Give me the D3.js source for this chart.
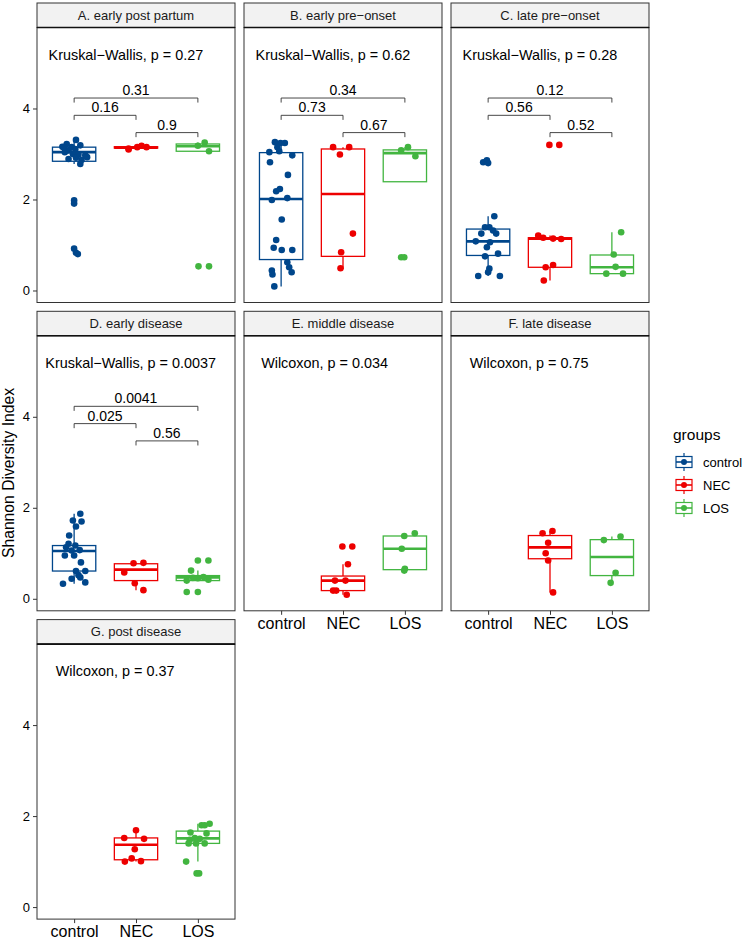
<!DOCTYPE html>
<html><head><meta charset="utf-8">
<script src="https://cdn.jsdelivr.net/npm/d3@7"></script>
<style>body{margin:0;background:#fff}svg{display:block}</style>
</head><body>
<svg id="chart" width="745" height="941"></svg>
<script>
// ---------- data ----------
const groups = ["control", "NEC", "LOS"];
const groupColors = ["#00468B", "#ED0000", "#42B540"];
const panelTitles = ["A. early post partum", "B. early pre\u2212onset", "C. late pre\u2212onset",
  "D. early disease", "E. middle disease", "F. late disease", "G. post disease"];
const testLabels = ["Kruskal\u2212Wallis, p = 0.27", "Kruskal\u2212Wallis, p = 0.62", "Kruskal\u2212Wallis, p = 0.28",
  "Kruskal\u2212Wallis, p = 0.0037", "Wilcoxon, p = 0.034", "Wilcoxon, p = 0.75", "Wilcoxon, p = 0.37"];
const yTicks = [0, 2, 4];
const yDomain = [-0.264, 5.78];
const yTitle = "Shannon Diversity Index";
const legendTitle = "groups";

// jittered observations: [group, jitter (category units), Shannon index]
const pointsA = [
  ["control",0.03,3.31],["control",-0.12,3.22],["control",-0.19,3.16],["control",-0.04,3.15],["control",0.10,3.19],
  ["control",-0.09,3.08],["control",0.02,3.11],["control",-0.15,3.04],["control",-0.02,3.00],["control",0.07,2.99],
  ["control",0.18,2.97],["control",-0.09,2.89],["control",0.12,2.87],["control",0.10,2.78],["control",0.03,2.92],
  ["control",0.21,2.93],["control",-0.17,3.15],["control",0.00,1.98],["control",0.00,1.91],["control",0.00,0.92],
  ["control",0.03,0.83],["control",0.06,0.80],
  ["NEC",-0.12,3.10],["NEC",-0.12,3.12],["NEC",0.09,3.18],["NEC",0.17,3.15],["NEC",0.02,3.15],
  ["LOS",0.00,3.18],["LOS",0.11,3.25],["LOS",0.18,3.06],["LOS",0.01,0.53],["LOS",0.18,0.53]
];
const pointsB = [
  ["control",-0.10,3.26],["control",-0.01,3.24],["control",0.06,3.24],["control",-0.06,3.15],["control",-0.19,3.04],
  ["control",-0.03,3.06],["control",0.18,2.97],["control",-0.18,2.82],["control",0.11,2.54],["control",-0.08,2.18],
  ["control",-0.02,2.23],["control",-0.15,1.99],["control",0.10,2.03],["control",0.01,1.56],["control",-0.08,1.11],
  ["control",-0.12,0.94],["control",0.01,0.89],["control",0.18,0.89],["control",0.10,0.62],["control",-0.15,0.44],
  ["control",-0.14,0.35],["control",0.13,0.51],["control",0.17,0.40],["control",-0.11,0.09],
  ["NEC",-0.16,3.15],["NEC",-0.05,2.99],["NEC",0.10,3.15],["NEC",0.16,1.25],["NEC",-0.03,0.84],["NEC",-0.04,0.49],
  ["LOS",-0.06,3.08],["LOS",0.05,3.15],["LOS",0.17,2.95],["LOS",-0.06,0.73],["LOS",-0.01,0.73]
];
const pointsC = [
  ["control",-0.08,2.82],["control",-0.02,2.86],["control",0.00,2.80],["control",0.10,1.63],["control",-0.05,1.39],
  ["control",0.02,1.39],["control",0.08,1.32],["control",0.13,1.25],["control",-0.11,1.25],["control",-0.20,1.08],
  ["control",0.03,1.06],["control",-0.02,0.95],["control",0.16,0.81],["control",-0.05,0.75],["control",0.02,0.48],
  ["control",0.00,0.40],["control",-0.16,0.32],["control",0.19,0.32],
  ["NEC",-0.01,3.20],["NEC",0.15,3.20],["NEC",-0.19,1.21],["NEC",-0.11,1.16],["NEC",0.05,1.14],["NEC",0.18,1.13],
  ["NEC",-0.07,0.51],["NEC",0.05,0.56],["NEC",-0.10,0.22],
  ["LOS",0.15,1.28],["LOS",0.03,0.79],["LOS",0.06,0.52],["LOS",-0.09,0.37],["LOS",0.18,0.37]
];
const pointsD = [
  ["control",0.10,1.87],["control",-0.02,1.72],["control",0.12,1.70],["control",0.03,1.59],["control",-0.08,1.39],
  ["control",-0.09,1.21],["control",0.02,1.17],["control",-0.13,1.13],["control",-0.04,1.06],["control",0.09,1.07],
  ["control",-0.15,0.95],["control",0.00,0.95],["control",0.11,0.80],["control",0.18,0.61],["control",0.03,0.61],
  ["control",0.07,0.52],["control",0.10,0.47],["control",-0.04,0.44],["control",0.18,0.36],["control",-0.18,0.33],
  ["NEC",-0.04,0.78],["NEC",0.12,0.79],["NEC",-0.19,0.58],["NEC",-0.02,0.34],["NEC",0.12,0.19],
  ["LOS",0.00,0.84],["LOS",0.17,0.84],["LOS",-0.11,0.62],["LOS",-0.18,0.40],["LOS",0.00,0.45],
  ["LOS",0.17,0.42],["LOS",0.09,0.48],["LOS",-0.08,0.46],["LOS",-0.18,0.15],["LOS",0.00,0.15]
];
const pointsE = [
  ["NEC",-0.01,1.15],["NEC",0.15,1.15],["NEC",0.08,0.76],["NEC",-0.13,0.40],["NEC",0.04,0.40],
  ["NEC",-0.16,0.18],["NEC",-0.11,0.18],["NEC",0.06,0.09],
  ["LOS",0.16,1.44],["LOS",-0.01,1.38],["LOS",-0.05,1.10],["LOS",-0.01,0.62],["LOS",0.00,0.66]
];
const pointsF = [
  ["NEC",-0.12,1.44],["NEC",0.04,1.49],["NEC",-0.03,1.23],["NEC",-0.07,1.00],["NEC",-0.03,0.84],["NEC",0.05,0.14],
  ["LOS",0.14,1.37],["LOS",-0.13,1.29],["LOS",0.06,0.57],["LOS",-0.02,0.35]
];
const pointsG = [
  ["NEC",0.00,1.69],["NEC",-0.19,1.52],["NEC",0.13,1.50],["NEC",-0.02,1.27],["NEC",-0.07,1.07],
  ["NEC",-0.18,1.00],["NEC",0.08,1.01],
  ["LOS",0.06,1.80],["LOS",0.19,1.83],["LOS",0.11,1.80],["LOS",-0.12,1.64],["LOS",0.14,1.62],["LOS",0.03,1.50],
  ["LOS",-0.13,1.48],["LOS",-0.03,1.40],["LOS",0.11,1.40],["LOS",-0.15,1.40],["LOS",-0.05,1.52],
  ["LOS",-0.19,1.00],["LOS",-0.02,0.74],["LOS",0.02,0.74]
];

// box statistics: [group, lower whisker, Q1, median, Q3, upper whisker]
const boxesA = [["control",2.78,2.84,3.04,3.15,3.31],["NEC",3.10,3.13,3.14,3.16,3.18],["LOS",3.06,3.06,3.17,3.22,3.25]];
const boxesB = [["control",0.09,0.68,2.01,3.03,3.26],["NEC",0.48,0.75,2.12,3.11,3.15],["LOS",2.39,2.39,3.02,3.09,3.15]];
const boxesC = [["control",0.32,0.77,1.08,1.35,1.63],["NEC",0.22,0.51,1.14,1.16,1.21],["LOS",0.37,0.37,0.51,0.78,1.28]];
const boxesD = [["control",0.33,0.61,1.05,1.17,1.87],["NEC",0.19,0.40,0.64,0.77,0.79],["LOS",0.40,0.40,0.47,0.51,0.62]];
const boxesE = [["NEC",0.09,0.18,0.40,0.50,0.76],["LOS",0.62,0.64,1.10,1.38,1.44]];
const boxesF = [["NEC",0.14,0.88,1.13,1.39,1.49],["LOS",0.35,0.51,0.92,1.30,1.37]];
const boxesG = [["NEC",1.00,1.04,1.37,1.52,1.69],["LOS",1.00,1.40,1.51,1.67,1.83]];

// pairwise comparisons (first four panels)
const pairs = [["control","LOS"], ["control","NEC"], ["NEC","LOS"]];
const pairLevels = [4.23, 3.85, 3.47];
const pairPA = ["0.31", "0.16", "0.9"];
const pairPB = ["0.34", "0.73", "0.67"];
const pairPC = ["0.12", "0.56", "0.52"];
const pairPD = ["0.0041", "0.025", "0.56"];

// ---------- layout ----------
const FONT = "'Liberation Sans', Arial, Helvetica, sans-serif";
const panelW = 198, panelH = 275, stripH = 24.5;
const colLeft = [37, 244, 451];
const rowTop = [3, 311.3, 619.6];

const panels = [
  {col:0,row:0,pts:pointsA,box:boxesA,pv:pairPA,xAxis:false,yAxis:true},
  {col:1,row:0,pts:pointsB,box:boxesB,pv:pairPB,xAxis:false,yAxis:false},
  {col:2,row:0,pts:pointsC,box:boxesC,pv:pairPC,xAxis:false,yAxis:false},
  {col:0,row:1,pts:pointsD,box:boxesD,pv:pairPD,xAxis:false,yAxis:true},
  {col:1,row:1,pts:pointsE,box:boxesE,pv:null,xAxis:true,yAxis:false},
  {col:2,row:1,pts:pointsF,box:boxesF,pv:null,xAxis:true,yAxis:false},
  {col:0,row:2,pts:pointsG,box:boxesG,pv:null,xAxis:true,yAxis:true}
];

const svg = d3.select("#chart").style("font-family", FONT);
const color = d3.scaleOrdinal().domain(groups).range(groupColors);

panels.forEach((p, i) => {
  const left = colLeft[p.col];
  const stripTop = rowTop[p.row];
  const top = stripTop + stripH;
  const x = d3.scalePoint().domain(groups).range([left, left + panelW]).padding(0.6);
  const step = x.step();
  const y = d3.scaleLinear().domain(yDomain).range([top + panelH, top]);
  const g = svg.append("g");

  // strip
  g.append("rect").attr("x", left).attr("y", stripTop).attr("width", panelW).attr("height", stripH)
    .attr("fill", "#F2F2F2").attr("stroke", "#333").attr("stroke-width", 1);
  g.append("text").attr("x", left + panelW / 2).attr("y", stripTop + stripH / 2 + 4.6)
    .attr("text-anchor", "middle").attr("font-size", 13).attr("fill", "#1A1A1A").text(panelTitles[i]);

  // panel background
  g.append("rect").attr("x", left).attr("y", top).attr("width", panelW).attr("height", panelH).attr("fill", "#fff");

  // boxes
  const bw = step * 0.7;
  p.box.forEach(b => {
    const [grp, lo, q1, med, q3, hi] = b;
    const cx = x(grp), c = color(grp);
    const bg = g.append("g").attr("stroke", c).attr("fill", "none");
    bg.append("line").attr("x1", cx).attr("x2", cx).attr("y1", y(q3)).attr("y2", y(hi)).attr("stroke-width", 1.3);
    bg.append("line").attr("x1", cx).attr("x2", cx).attr("y1", y(q1)).attr("y2", y(lo)).attr("stroke-width", 1.3);
    bg.append("rect").attr("x", cx - bw / 2).attr("y", y(q3)).attr("width", bw).attr("height", Math.max(0.5, y(q1) - y(q3)))
      .attr("fill", "#fff").attr("stroke-width", 1.3);
    bg.append("line").attr("x1", cx - bw / 2).attr("x2", cx + bw / 2).attr("y1", y(med)).attr("y2", y(med)).attr("stroke-width", 2.6);
  });

  // points
  g.selectAll("circle.pt").data(p.pts).join("circle").attr("class", "pt")
    .attr("cx", d => x(d[0]) + d[1] * step).attr("cy", d => y(d[2])).attr("r", 3.3)
    .attr("fill", d => color(d[0]));

  // brackets
  if (p.pv) {
    pairs.forEach((pr, k) => {
      const x1 = x(pr[0]), x2 = x(pr[1]), yy = y(pairLevels[k]), tick = y(pairLevels[k] - 0.1) - yy;
      g.append("path").attr("d", `M${x1},${yy + tick}V${yy}H${x2}V${yy + tick}`)
        .attr("fill", "none").attr("stroke", "#333").attr("stroke-width", 0.9);
      g.append("text").attr("x", (x1 + x2) / 2).attr("y", yy - 3).attr("text-anchor", "middle")
        .attr("font-size", 14).attr("fill", "#000").text(p.pv[k]);
    });
  }

  // global test label
  const t = g.append("text").attr("y", y(5.07)).attr("font-size", 14.4).attr("fill", "#000").text(testLabels[i]);
  const tw = t.node().getComputedTextLength();
  t.attr("x", left + 42.5 - 0.2 * tw);

  // border
  g.append("rect").attr("x", left).attr("y", top).attr("width", panelW).attr("height", panelH)
    .attr("fill", "none").attr("stroke", "#333").attr("stroke-width", 1);
  g.append("line").attr("x1", left).attr("x2", left + panelW).attr("y1", top).attr("y2", top)
    .attr("stroke", "#111").attr("stroke-width", 1.6);

  // axes
  if (p.yAxis) {
    const ya = g.append("g").attr("transform", `translate(${left},0)`)
      .call(d3.axisLeft(y).tickValues(yTicks).tickSize(4).tickPadding(3).tickFormat(d3.format("d")));
    ya.select(".domain").remove();
    ya.selectAll("line").attr("stroke", "#333");
    ya.selectAll("text").attr("font-size", 13).attr("fill", "#000").attr("font-family", FONT);
  }
  if (p.xAxis) {
    const xa = g.append("g").attr("transform", `translate(0,${top + panelH})`)
      .call(d3.axisBottom(x).tickSize(4).tickPadding(3));
    xa.select(".domain").remove();
    xa.selectAll("line").attr("stroke", "#333");
    xa.selectAll("text").attr("font-size", 16).attr("fill", "#000").attr("font-family", FONT);
  }
});

// y title
svg.append("text").attr("transform", "translate(14,473) rotate(-90)").attr("text-anchor", "middle")
  .attr("font-size", 15.7).attr("fill", "#000").text(yTitle);

// legend
const lg = svg.append("g").attr("transform", "translate(673,0)");
lg.append("text").attr("x", 0).attr("y", 440).attr("font-size", 15.5).attr("fill", "#000").text(legendTitle);
groups.forEach((grp, k) => {
  const cy = 462 + k * 23, cx = 11, c = color(grp);
  const kg = lg.append("g").attr("stroke", c).attr("fill", "none");
  kg.append("line").attr("x1", cx).attr("x2", cx).attr("y1", cy - 9).attr("y2", cy + 9).attr("stroke-width", 1.2);
  kg.append("rect").attr("x", cx - 8).attr("y", cy - 5.5).attr("width", 16).attr("height", 11).attr("fill", "#fff").attr("stroke-width", 1.2);
  kg.append("line").attr("x1", cx - 8).attr("x2", cx + 8).attr("y1", cy).attr("y2", cy).attr("stroke-width", 1.6);
  kg.append("circle").attr("cx", cx).attr("cy", cy).attr("r", 3).attr("fill", c).attr("stroke", "none");
  lg.append("text").attr("x", 30).attr("y", cy + 4.6).attr("font-size", 13).attr("fill", "#000").text(grp);
});
</script>
</body></html>
